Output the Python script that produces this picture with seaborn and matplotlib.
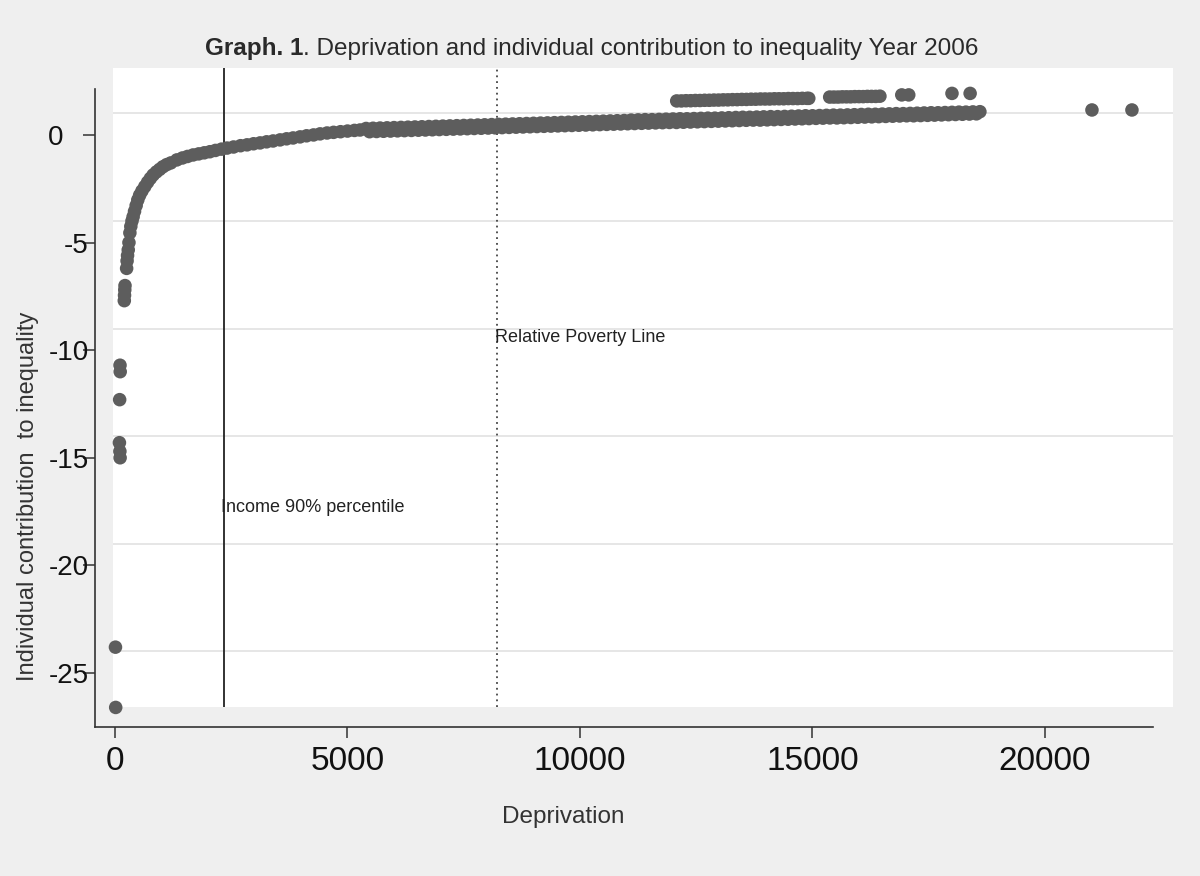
import numpy as np
import pandas as pd
import matplotlib
matplotlib.use("Agg")
import matplotlib.pyplot as plt
import seaborn as sns

# ---------------- data ----------------
# isolated low values on the far left
outlier_x = [15, 10, 108, 112, 100, 95, 105, 110]
outlier_y = [-26.6, -23.8, -10.7, -11.0, -12.3, -14.3, -14.7, -15.0]

# small cluster around -7
cluster_x = [200, 205, 210, 215]
cluster_y = [-7.7, -7.45, -7.2, -7.0]

# steep rising part of the curve
steep_x = [250, 260, 270, 285, 300, 320, 340, 365, 390, 420, 455, 490, 530, 580,
           640, 700, 760, 820, 890, 960, 1030, 1110, 1200, 1330, 1450, 1560, 1680,
           1800, 1920, 2040, 2160, 2290, 2410, 2550, 2700, 2840, 2980, 3120, 3260,
           3400, 3550, 3690, 3830, 3980, 4120, 4270, 4410, 4560, 4700, 4850, 5000,
           5150, 5270]
steep_y = [-6.2, -5.85, -5.6, -5.34, -5.0, -4.55, -4.25, -4.0, -3.8, -3.55, -3.28,
           -3.02, -2.8, -2.6, -2.4, -2.2, -2.02, -1.86, -1.72, -1.6, -1.48, -1.38,
           -1.3, -1.16, -1.07, -1.0, -0.93, -0.88, -0.83, -0.78, -0.72, -0.66, -0.61,
           -0.56, -0.5, -0.46, -0.41, -0.37, -0.32, -0.28, -0.23, -0.18, -0.14,
           -0.09, -0.04, 0.0, 0.05, 0.09, 0.12, 0.15, 0.18, 0.21, 0.23]

# flat part of the curve, upper edge of the band
flat_hi_x = [5400, 5550, 5700, 5850, 6000, 6150, 6300, 6450, 6600, 6750, 6900, 7050,
             7200, 7350, 7500, 7650, 7800, 7950, 8100, 8250, 8400, 8550, 8700, 8850,
             9000, 9150, 9300, 9450, 9600, 9750, 9900, 10050, 10200, 10350, 10500,
             10650, 10800, 10950, 11100, 11250, 11400, 11550, 11700, 11850, 12000,
             12150, 12300, 12450, 12600, 12750, 12900, 13050, 13200, 13350, 13500,
             13650, 13800, 13950, 14100, 14250, 14400, 14550, 14700, 14850, 15000,
             15150, 15300, 15450, 15600, 15750, 15900, 16050, 16200, 16350, 16500,
             16650, 16800, 16950, 17100, 17250, 17400, 17550, 17700, 17850, 18000,
             18150, 18300, 18450, 18600]
flat_hi_y = [0.30, 0.31, 0.32, 0.33, 0.34, 0.35, 0.36, 0.37, 0.38, 0.39, 0.40, 0.41,
             0.42, 0.43, 0.44, 0.45, 0.46, 0.47, 0.48, 0.49, 0.50, 0.51, 0.52, 0.53,
             0.54, 0.55, 0.56, 0.57, 0.58, 0.59, 0.60, 0.61, 0.62, 0.63, 0.64,
             0.65, 0.66, 0.67, 0.69, 0.70, 0.71, 0.71, 0.72, 0.73, 0.74,
             0.75, 0.75, 0.76, 0.77, 0.78, 0.78, 0.79, 0.80, 0.81, 0.82,
             0.82, 0.83, 0.84, 0.85, 0.85, 0.86, 0.87, 0.88, 0.89, 0.89,
             0.90, 0.91, 0.92, 0.92, 0.93, 0.94, 0.95, 0.96, 0.96, 0.97,
             0.98, 0.99, 0.99, 1.00, 1.01, 1.02, 1.03, 1.03, 1.04, 1.05,
             1.06, 1.06, 1.07, 1.08]

# flat part of the curve, lower edge of the band
flat_lo_x = [5475, 5625, 5775, 5925, 6075, 6225, 6375, 6525, 6675, 6825, 6975, 7125,
             7275, 7425, 7575, 7725, 7875, 8025, 8175, 8325, 8475, 8625, 8775, 8925,
             9075, 9225, 9375, 9525, 9675, 9825, 9975, 10125, 10275, 10425, 10575,
             10725, 10875, 11025, 11175, 11325, 11475, 11625, 11775, 11925, 12075,
             12225, 12375, 12525, 12675, 12825, 12975, 13125, 13275, 13425, 13575,
             13725, 13875, 14025, 14175, 14325, 14475, 14625, 14775, 14925, 15075,
             15225, 15375, 15525, 15675, 15825, 15975, 16125, 16275, 16425, 16575,
             16725, 16875, 17025, 17175, 17325, 17475, 17625, 17775, 17925, 18075,
             18225, 18375, 18525]
flat_lo_y = [0.15, 0.16, 0.17, 0.18, 0.19, 0.20, 0.21, 0.22, 0.23, 0.24, 0.25, 0.26,
             0.27, 0.28, 0.29, 0.30, 0.31, 0.32, 0.33, 0.34, 0.35, 0.36, 0.37, 0.38,
             0.39, 0.40, 0.41, 0.42, 0.43, 0.44, 0.45, 0.46, 0.47, 0.48, 0.49,
             0.50, 0.51, 0.52, 0.53, 0.54, 0.55, 0.56, 0.57, 0.58, 0.58,
             0.59, 0.60, 0.61, 0.62, 0.63, 0.64, 0.65, 0.66, 0.67, 0.68,
             0.69, 0.69, 0.70, 0.71, 0.72, 0.73, 0.74, 0.75, 0.76, 0.77,
             0.78, 0.79, 0.79, 0.80, 0.81, 0.82, 0.83, 0.84, 0.85, 0.86,
             0.87, 0.88, 0.89, 0.89, 0.90, 0.91, 0.92, 0.93, 0.94, 0.95,
             0.96, 0.97, 0.98]

# upper group of points above the main band
upper_x = [12080, 12180, 12280, 12380, 12480, 12580, 12680, 12780, 12880, 12980,
           13080, 13180, 13280, 13380, 13480, 13580, 13680, 13780, 13880, 13980,
           14080, 14180, 14280, 14380, 14480, 14580, 14680, 14780, 14880, 14920,
           15370, 15460, 15550, 15640, 15730, 15820, 15910, 16000, 16090, 16180,
           16270, 16360, 16450,
           16920, 17070, 18000, 18390]
upper_y = [1.58, 1.58, 1.59, 1.59, 1.60, 1.60, 1.61, 1.61, 1.62, 1.62,
           1.63, 1.63, 1.64, 1.64, 1.65, 1.65, 1.66, 1.66, 1.67, 1.67,
           1.67, 1.68, 1.68, 1.68, 1.69, 1.69, 1.69, 1.70, 1.70, 1.70,
           1.76, 1.76, 1.76, 1.77, 1.77, 1.77, 1.78, 1.78, 1.78, 1.79,
           1.79, 1.79, 1.80,
           1.86, 1.86, 1.93, 1.93]

# far-right points
right_x = [21010, 21870]
right_y = [1.16, 1.16]

income_p90 = 2350          # solid reference line
poverty_line = 8225        # dotted reference line

x_ticks = [0, 5000, 10000, 15000, 20000]
y_ticks = [0, -5, -10, -15, -20, -25]
grid_offset = 1.0          # reference grid is drawn slightly above the tick marks

title_bold = "Graph. 1"
title_rest = ". Deprivation and individual contribution to inequality Year 2006"
x_label = "Deprivation"
y_label = "Individual contribution  to inequality"
label_p90 = "Income 90% percentile"
label_pov = "Relative Poverty Line"

df = pd.DataFrame({
    "deprivation": outlier_x + cluster_x + steep_x + flat_hi_x + flat_lo_x + upper_x + right_x,
    "contribution": outlier_y + cluster_y + steep_y + flat_hi_y + flat_lo_y + upper_y + right_y,
})

# ---------------- style ----------------
sns.set_style("white")
plt.rcParams["font.family"] = ["Liberation Sans", "DejaVu Sans"]

BG = "#efefef"
DOT = "#5d5d5d"
INK = "#222222"

fig = plt.figure(figsize=(12, 8.76), dpi=100, facecolor=BG)
ax = fig.add_axes([113 / 1200, 1 - 707 / 876, 1060 / 1200, 639 / 876])
ax.set_facecolor("white")

for g in y_ticks:
    ax.axhline(g + grid_offset, color="#e6e6e6", lw=1.4, zorder=0)

ax.axvline(income_p90, color=INK, lw=1.3, zorder=1)
ax.axvline(poverty_line, color="#444444", lw=1.3, ls=(0, (1, 2.2)), zorder=1)

sns.scatterplot(data=df, x="deprivation", y="contribution", color=DOT, s=95,
                linewidth=0, edgecolor="none", alpha=1, ax=ax, clip_on=False, zorder=3)

ax.text(2270, -17.33, label_p90, fontsize=13, color=INK, va="center", ha="left")
ax.text(8181, -9.39, label_pov, fontsize=13, color=INK, va="center", ha="left")

ax.set_xlim(-43, 22753)
ax.set_ylim(-26.58, 3.11)
ax.set_xticks(x_ticks)
ax.set_yticks(y_ticks)
ax.set_xticklabels([str(v) for v in x_ticks])
ax.set_yticklabels([str(v) for v in y_ticks])

for s in ["top", "right"]:
    ax.spines[s].set_visible(False)
ax.spines["left"].set_position(("outward", 13))
ax.spines["bottom"].set_position(("outward", 14.4))
ax.spines["left"].set_bounds(-27.51, 2.14)
ax.spines["bottom"].set_bounds(-430, 22325)
for s in ["left", "bottom"]:
    ax.spines[s].set_color("#333333")
    ax.spines[s].set_linewidth(1.2)

ax.tick_params(axis="x", direction="out", length=8, width=1.1, color="#333333",
               labelsize=24, pad=6, labelcolor="#111111", bottom=True)
ax.tick_params(axis="y", direction="out", length=8.6, width=1.1, color="#333333",
               labelsize=20, pad=-4.3, labelcolor="#111111", left=True)
# the "0" label sits further left in the reference
ax.get_yticklabels()[0].set_x(-0.0245)

ax.set_xlabel(x_label, fontsize=17.5, color="#333333")
ax.set_ylabel(y_label, fontsize=17, color="#333333")
ax.xaxis.set_label_coords(0.4245, -0.155)
ax.yaxis.set_label_coords(-0.07, 0.33)

# title: bold "Graph. 1" followed by the regular text
t1 = fig.text(205 / 1200, 1 - 49 / 876, title_bold, fontsize=17.5, fontweight="bold",
              color="#2a2a2a", ha="left", va="center")
ax.annotate(title_rest, xy=(1, 0), xycoords=t1, fontsize=17.5, color="#2a2a2a",
            ha="left", va="bottom", annotation_clip=False)

fig.savefig("out.png", dpi=100, facecolor=BG)
